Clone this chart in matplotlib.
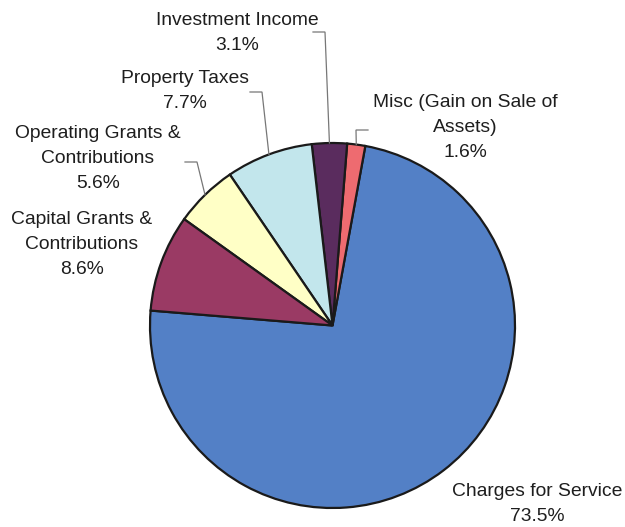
import numpy as np
import matplotlib
matplotlib.use("Agg")
import matplotlib.pyplot as plt

labels = ["Charges for Service", "Misc (Gain on Sale of\nAssets)", "Investment Income",
          "Property Taxes", "Operating Grants &\nContributions", "Capital Grants &\nContributions"]
values = [73.5, 1.6, 3.1, 7.7, 5.6, 8.6]
colors = ["#5380C6", "#EE6B70", "#5A2C5E", "#C2E6EC", "#FFFFC6", "#9A3A64"]

W, H = 625, 527
fig = plt.figure(figsize=(W / 100, H / 100), dpi=100)
ax = fig.add_axes([0, 0, 1, 1])

cx, cy, r = 332.5, H - 325.5, 182.5
start = 175.3
wedges, _ = ax.pie(values, colors=colors, startangle=start, counterclock=True,
                   center=(cx, cy), radius=r, frame=True,
                   wedgeprops=dict(edgecolor="#1a1a1a", linewidth=1.6))
ax.set_xlim(0, W)
ax.set_ylim(0, H)
ax.set_aspect("equal")
ax.axis("off")

font = dict(family=["Liberation Sans", "DejaVu Sans"], fontsize=13.9, color="#1e1e1e",
            ha="center", va="center", linespacing=1.63)

# label positions in image pixel coords (x, y of first line center)
label_pos = {
    0: (537, 491),
    1: (465, 102),
    2: (237, 20),
    3: (185, 78),
    4: (98, 133),
    5: (82, 219),
}
for i, (x, y) in label_pos.items():
    txt = f"{labels[i]}\n{values[i]:.1f}%"
    nlines = txt.count("\n") + 1
    ymid = y + (nlines - 1) * 25.5 / 2
    ax.text(x, H - ymid, txt, **font)

# leader lines: (text end point, elbow) in image coords; pie end computed from wedge angle
leaders = {
    1: ((368, 130), (356, 130)),
    2: ((313, 32), (325, 32)),
    3: ((250, 92), (262, 92)),
    4: ((185, 162), (197, 162)),
}
for i, (p0, p1) in leaders.items():
    w = wedges[i]
    ang = np.deg2rad((w.theta1 + w.theta2) / 2)
    ex, ey = cx + r * np.cos(ang), cy + r * np.sin(ang)
    ax.plot([p0[0], p1[0], ex], [H - p0[1], H - p1[1], ey], color="#777777", lw=0.9,
            solid_joinstyle="miter")

fig.savefig("out.png", dpi=100, facecolor="white")
